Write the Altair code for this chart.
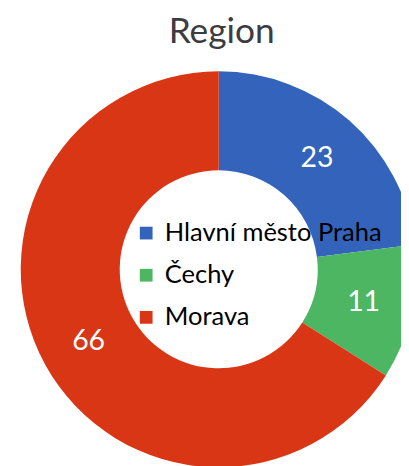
import altair as alt
import pandas as pd

categories = ["Hlavní město Praha", "Čechy", "Morava"]
values = [23, 11, 66]
colors = ["#3363BA", "#4CB663", "#D93616"]
title_text = "Region"

df = pd.DataFrame({"region": categories, "value": values, "order": [0, 1, 2]})

CX, CY = 215, 262
R_OUT, R_IN = 202, 101

color = alt.Color(
    "region:N",
    scale=alt.Scale(domain=categories, range=colors),
    sort=categories,
    legend=alt.Legend(
        title=None,
        orient="none",
        legendX=128,
        legendY=212,
        symbolType="square",
        symbolSize=169,
        symbolStrokeWidth=0,
        symbolOpacity=1,
        labelFontSize=26,
        labelFont="Lato",
        labelColor="#000000",
        labelOffset=6,
        rowPadding=17,
        labelLimit=400,
    ),
)

base = alt.Chart(df).encode(
    theta=alt.Theta("value:Q", stack=True),
    order=alt.Order("order:Q"),
)

arcs = base.mark_arc(outerRadius=R_OUT, innerRadius=R_IN, stroke=None).encode(
    color=color,
    x=alt.value(CX),
    y=alt.value(CY),
)

labels = base.mark_text(
    radius=(R_OUT + R_IN) / 2,
    fontSize=29,
    font="Lato",
    color="white",
    align="center",
    baseline="middle",
).encode(
    text="value:Q",
    x=alt.value(CX),
    y=alt.value(CY),
)

title = alt.Chart(pd.DataFrame({"t": [title_text]})).mark_text(
    fontSize=36,
    font="Lato",
    color="#3c3c40",
    align="center",
    baseline="alphabetic",
).encode(text="t:N", x=alt.value(218), y=alt.value(31))

chart = alt.layer(arcs, labels, title).properties(
    width=401,
    height=458,
    autosize=alt.AutoSizeParams(type="none"),
    padding=0,
).configure_view(stroke=None)

chart.save("out.html", embed_options={"renderer": "svg", "actions": False})
